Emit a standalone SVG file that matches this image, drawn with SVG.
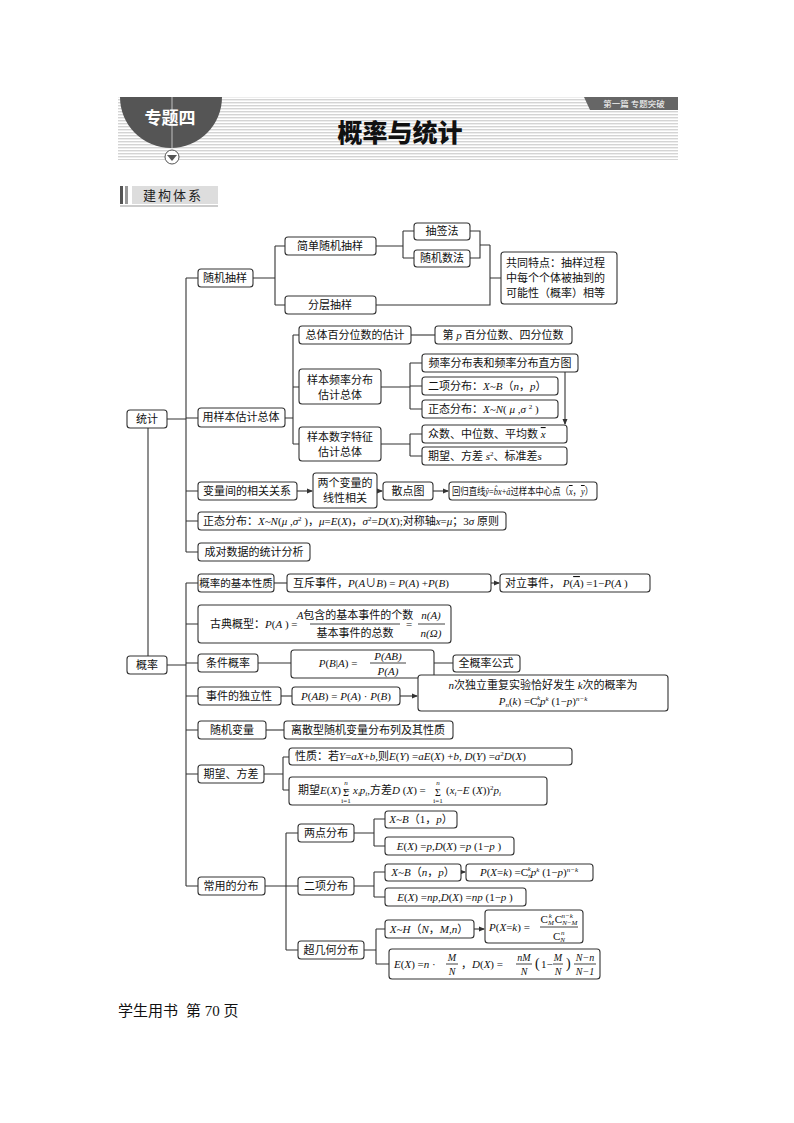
<svg xmlns="http://www.w3.org/2000/svg" width="794" height="1123" viewBox="0 0 794 1123">
<defs>
<pattern id="st" width="4" height="3" patternUnits="userSpaceOnUse"><rect width="4" height="3" fill="#fff"/><rect width="4" height="1.4" fill="#d4d4d4"/></pattern>
<marker id="ar" markerWidth="6" markerHeight="6" refX="5" refY="3" orient="auto" markerUnits="userSpaceOnUse"><path d="M0,0.5 L6,3 L0,5.5z" fill="#333"/></marker>
<style>
.b{fill:#fff;stroke:#333;stroke-width:1.1}
.t{font-family:"Liberation Serif","Noto Sans CJK SC",serif;font-size:11px;fill:#111;text-anchor:middle}
.l{text-anchor:start}
.s{font-size:7px}
.i{font-style:italic}
.c path,.c line{fill:none;stroke:#333;stroke-width:1.1}
</style>
</defs>
<g id="header">
<rect x="118" y="97" width="560" height="63" fill="url(#st)"/>
<path d="M120,97 H222 A51,51 0 0 1 120,97z" fill="#555"/>
<line x1="172" y1="97" x2="172" y2="150" stroke="#ddd" stroke-width="0.8"/>
<text x="170" y="124" style="font-family:'Noto Sans CJK SC',sans-serif;font-size:17px;font-weight:bold;fill:#fff;text-anchor:middle">专题四</text>
<circle cx="172" cy="157" r="7" fill="#fff" stroke="#555"/>
<path d="M167,155 H177 L172,161z" fill="#555"/>
<text x="400" y="142" style="font-family:'Noto Sans CJK SC',sans-serif;font-size:25px;font-weight:900;fill:#111;text-anchor:middle">概率与统计</text>
<path d="M584,97 H678 V110 H590z" fill="#666"/>
<text x="634" y="107" style="font-family:'Noto Sans CJK SC',sans-serif;font-size:8.5px;fill:#fff;text-anchor:middle">第一篇  专题突破</text>
<rect x="120" y="186" width="3" height="18" fill="#555"/>
<rect x="125" y="186" width="3" height="18" fill="#999"/>
<rect x="132" y="186" width="86" height="18" fill="#ddd"/>
<line x1="120" y1="206" x2="218" y2="206" stroke="#999"/>
<text x="173" y="200" style="font-family:'Noto Sans CJK SC',sans-serif;font-size:13px;fill:#222;text-anchor:middle;letter-spacing:2px">建构体系</text>
</g>
<g id="connectors" class="c">
<path d="M148,428 V656"/>
<path d="M167,419 H186 M186,278 V552 M186,278 H198 M186,418 H198 M186,491 H198 M186,521 H198 M186,552 H198"/>
<path d="M253,278 H275 M275,246 V305 M275,246 H285 M275,305 H285"/>
<path d="M376,246 H403 M403,231 V258 M403,231 H414 M403,258 H414"/>
<path d="M470,231 H480 V258 H470 M480,245 H490 M376,305 H490 V245 M490,278 H501"/>
<path d="M285,418 H293 M293,335 V444 M293,335 H299 M293,387 H299 M293,444 H299"/>
<path d="M411,335 H435"/>
<path d="M381,387 H410 M410,363 V409 M410,363 H422 M410,386 H422 M410,409 H422"/>
<path d="M565,372 V424" marker-end="url(#ar)"/>
<path d="M381,444 H410 M410,434 V456 M410,434 H422 M410,456 H422"/>
<path d="M297,491 H312" marker-end="url(#ar)"/>
<path d="M377,491 H382" marker-end="url(#ar)"/>
<path d="M433,491 H448" marker-end="url(#ar)"/>
<path d="M167,665 H186 M186,583 V886 M186,583 H198 M186,624 H198 M186,663 H198 M186,696 H198 M186,730 H198 M186,774 H198 M186,886 H198"/>
<path d="M274,583 H287"/>
<path d="M491,583 H499" marker-end="url(#ar)"/>
<path d="M258,663 H291 M434,663 H453"/>
<path d="M281,696 H292"/>
<path d="M400,696 H417" marker-end="url(#ar)"/>
<path d="M266,730 H284"/>
<path d="M264,774 H283 M283,757 V790 M283,757 H289 M283,790 H289"/>
<path d="M265,886 H286 M286,833 V950 M286,833 H298 M286,886 H298 M286,950 H298"/>
<path d="M354,833 H374 M374,819 V846 M374,819 H385 M374,846 H385"/>
<path d="M354,886 H374 M374,872 V897 M374,872 H385 M374,897 H385"/>
<path d="M461,872 H465" marker-end="url(#ar)"/>
<path d="M364,950 H376 M376,929 V964 M376,929 H385 M376,964 H389"/>
<path d="M474,929 H484" marker-end="url(#ar)"/>
</g>
<g id="n-tongji"><rect class="b" x="127" y="410" width="40" height="18" rx="3"/><text class="t" x="147" y="423">统计</text></g>
<g id="n-gailv"><rect class="b" x="127" y="656" width="40" height="18" rx="3"/><text class="t" x="147" y="669">概率</text></g>
<g id="n-sjcy"><rect class="b" x="198" y="269" width="55" height="18" rx="3"/><text class="t" x="225" y="282">随机抽样</text></g>
<g id="n-jdsj"><rect class="b" x="285" y="237" width="91" height="18" rx="3"/><text class="t" x="330" y="250">简单随机抽样</text></g>
<g id="n-fccy"><rect class="b" x="285" y="296" width="91" height="18" rx="3"/><text class="t" x="330" y="309">分层抽样</text></g>
<g id="n-cqf"><rect class="b" x="414" y="223" width="56" height="17" rx="3"/><text class="t" x="442" y="235">抽签法</text></g>
<g id="n-sjsf"><rect class="b" x="414" y="250" width="56" height="17" rx="3"/><text class="t" x="442" y="262">随机数法</text></g>
<g id="n-gttd"><rect class="b" x="501" y="252" width="116" height="52" rx="3"/><text class="t l" x="506" y="267">共同特点：抽样过程</text><text class="t l" x="506" y="282">中每个个体被抽到的</text><text class="t l" x="506" y="297">可能性（概率）相等</text></g>
<g id="n-yyb"><rect class="b" x="198" y="408" width="87" height="19" rx="3"/><text class="t" x="241" y="421">用样本估计总体</text></g>
<g id="n-ztbf"><rect class="b" x="299" y="326" width="112" height="18" rx="3"/><text class="t" x="355" y="339">总体百分位数的估计</text></g>
<g id="n-dpbf"><rect class="b" x="435" y="326" width="137" height="18" rx="3"/><text class="t" x="503" y="339">第 <tspan class="i">p</tspan> 百分位数、四分位数</text></g>
<g id="n-ybpl"><rect class="b" x="299" y="369" width="82" height="35" rx="3"/><text class="t" x="340" y="384">样本频率分布</text><text class="t" x="340" y="399">估计总体</text></g>
<g id="n-plfb"><rect class="b" x="422" y="354" width="156" height="18" rx="3"/><text class="t" x="500" y="367">频率分布表和频率分布直方图</text></g>
<g id="n-exfb"><rect class="b" x="422" y="377" width="136" height="18" rx="3"/><text class="t l" x="428" y="390">二项分布：<tspan class="i">X~B</tspan>（<tspan class="i">n</tspan>，<tspan class="i">p</tspan>）</text></g>
<g id="n-ztfb"><rect class="b" x="422" y="400" width="136" height="18" rx="3"/><text class="t l" x="428" y="413">正态分布：<tspan class="i">X~N</tspan>( <tspan class="i">μ</tspan> ,<tspan class="i">σ</tspan> <tspan class="s" dy="-4">2</tspan><tspan dy="4"> )</tspan></text></g>
<g id="n-ybsz"><rect class="b" x="299" y="427" width="82" height="34" rx="3"/><text class="t" x="340" y="441">样本数字特征</text><text class="t" x="340" y="456">估计总体</text></g>
<g id="n-zs"><rect class="b" x="422" y="425" width="145" height="18" rx="3"/><text class="t l" x="428" y="438">众数、中位数、平均数 <tspan class="i" text-decoration="overline">x</tspan></text></g>
<g id="n-qw"><rect class="b" x="422" y="447" width="145" height="18" rx="3"/><text class="t l" x="428" y="460">期望、方差 <tspan class="i">s</tspan><tspan class="s" dy="-4">2</tspan><tspan dy="4">、标准差</tspan><tspan class="i">s</tspan></text></g>
<g id="n-blj"><rect class="b" x="198" y="482" width="99" height="18" rx="3"/><text class="t" x="247" y="495">变量间的相关关系</text></g>
<g id="n-lgbl"><rect class="b" x="313" y="473" width="64" height="35" rx="3"/><text class="t" x="345" y="487">两个变量的</text><text class="t" x="345" y="502">线性相关</text></g>
<g id="n-sdt"><rect class="b" x="383" y="482" width="50" height="18" rx="3"/><text class="t" x="408" y="495">散点图</text></g>
<g id="n-hgzx"><rect class="b" x="449" y="482" width="148" height="18" rx="3"/><text class="t l" x="452" y="495" style="font-size:10px" textLength="141" lengthAdjust="spacingAndGlyphs">回归直线<tspan class="i">ŷ</tspan>=<tspan class="i">b̂x</tspan>+<tspan class="i">â</tspan>过样本中心点（<tspan class="i" text-decoration="overline">x</tspan>，<tspan class="i" text-decoration="overline">y</tspan>）</text></g>
<g id="n-ztfb2"><rect class="b" x="198" y="512" width="308" height="18" rx="3"/><text class="t l" x="203" y="525" textLength="296" lengthAdjust="spacingAndGlyphs">正态分布：<tspan class="i">X~N</tspan>(<tspan class="i">μ</tspan> ,<tspan class="i">σ</tspan><tspan class="s" dy="-4">2</tspan><tspan dy="4"> )，</tspan><tspan class="i">μ</tspan>=<tspan class="i">E</tspan>(<tspan class="i">X</tspan>)，<tspan class="i">σ</tspan><tspan class="s" dy="-4">2</tspan><tspan dy="4">=</tspan><tspan class="i">D</tspan>(<tspan class="i">X</tspan>);对称轴<tspan class="i">x</tspan>=<tspan class="i">μ</tspan>；3<tspan class="i">σ</tspan> 原则</text></g>
<g id="n-cdsj"><rect class="b" x="198" y="543" width="112" height="18" rx="3"/><text class="t" x="254" y="556">成对数据的统计分析</text></g>
<g id="n-gljb"><rect class="b" x="198" y="574" width="76" height="18" rx="3"/><text class="t" x="236" y="587" style="font-size:10.5px">概率的基本性质</text></g>
<g id="n-hc"><rect class="b" x="287" y="574" width="204" height="18" rx="3"/><text class="t l" x="293" y="587">互斥事件，<tspan class="i">P</tspan>(<tspan class="i">A</tspan>∪<tspan class="i">B</tspan>) = <tspan class="i">P</tspan>(<tspan class="i">A</tspan>) +<tspan class="i">P</tspan>(<tspan class="i">B</tspan>)</text></g>
<g id="n-dl"><rect class="b" x="500" y="574" width="150" height="18" rx="3"/><text class="t l" x="505" y="587">对立事件，  <tspan class="i">P</tspan>(<tspan class="i" text-decoration="overline">A</tspan>) =1−<tspan class="i">P</tspan>(<tspan class="i">A</tspan> )</text></g>
<g id="n-gd"><rect class="b" x="198" y="605" width="253" height="38" rx="3"/><text class="t l" x="210" y="628">古典概型：<tspan class="i">P</tspan>(<tspan class="i">A</tspan> ) =</text><line x1="310" y1="624" x2="400" y2="624" stroke="#111" stroke-width="0.8"/><text class="t" x="355" y="619"><tspan class="i">A</tspan>包含的基本事件的个数</text><text class="t" x="355" y="637">基本事件的总数</text><text class="t" x="409" y="628">=</text><line x1="418" y1="624" x2="445" y2="624" stroke="#111" stroke-width="0.8"/><text class="t i" x="431" y="619">n(A)</text><text class="t i" x="431" y="637">n(Ω)</text></g>
<g id="n-tjgl"><rect class="b" x="198" y="654" width="60" height="18" rx="3"/><text class="t" x="228" y="667">条件概率</text></g>
<g id="n-pba"><rect class="b" x="291" y="650" width="143" height="28" rx="3"/><text class="t" x="338" y="667"><tspan class="i">P</tspan>(<tspan class="i">B</tspan>|<tspan class="i">A</tspan>) =</text><line x1="370" y1="663" x2="406" y2="663" stroke="#111" stroke-width="0.8"/><text class="t i" x="388" y="660">P(AB)</text><text class="t i" x="388" y="675">P(A)</text></g>
<g id="n-qgl"><rect class="b" x="453" y="655" width="67" height="17" rx="3"/><text class="t" x="486" y="667">全概率公式</text></g>
<g id="n-dlx"><rect class="b" x="198" y="687" width="83" height="18" rx="3"/><text class="t" x="239" y="700">事件的独立性</text></g>
<g id="n-pab"><rect class="b" x="292" y="687" width="108" height="18" rx="3"/><text class="t" x="346" y="700"><tspan class="i">P</tspan>(<tspan class="i">AB</tspan>) = <tspan class="i">P</tspan>(<tspan class="i">A</tspan>) · <tspan class="i">P</tspan>(<tspan class="i">B</tspan>)</text></g>
<g id="n-ncdl"><rect class="b" x="418" y="675" width="250" height="36" rx="3"/><text class="t" x="543" y="689"><tspan class="i">n</tspan>次独立重复实验恰好发生 <tspan class="i">k</tspan>次的概率为</text><text class="t" x="543" y="705"><tspan class="i">P</tspan><tspan class="s i" dy="2">n</tspan><tspan dy="-2">(</tspan><tspan class="i">k</tspan>) =C<tspan class="s i" dy="2">n</tspan><tspan class="s i" dx="-4" dy="-7">k</tspan><tspan class="i" dy="5">p</tspan><tspan class="s i" dy="-4">k</tspan><tspan dy="4"> (1−</tspan><tspan class="i">p</tspan>)<tspan class="s i" dy="-4">n−k</tspan></text></g>
<g id="n-sjbl"><rect class="b" x="198" y="721" width="68" height="18" rx="3"/><text class="t" x="232" y="734">随机变量</text></g>
<g id="n-lsx"><rect class="b" x="284" y="721" width="169" height="18" rx="3"/><text class="t" x="368" y="734">离散型随机变量分布列及其性质</text></g>
<g id="n-qwfc"><rect class="b" x="198" y="765" width="66" height="18" rx="3"/><text class="t" x="231" y="778">期望、方差</text></g>
<g id="n-xz"><rect class="b" x="289" y="748" width="283" height="17" rx="3"/><text class="t l" x="295" y="760">性质：若<tspan class="i">Y</tspan>=<tspan class="i">aX</tspan>+<tspan class="i">b</tspan>,则<tspan class="i">E</tspan>(<tspan class="i">Y</tspan>) =<tspan class="i">aE</tspan>(<tspan class="i">X</tspan>) +<tspan class="i">b</tspan>, <tspan class="i">D</tspan>(<tspan class="i">Y</tspan>) =<tspan class="i">a</tspan><tspan class="s" dy="-4">2</tspan><tspan class="i" dy="4">D</tspan>(<tspan class="i">X</tspan>)</text></g>
<g id="n-qwe"><rect class="b" x="289" y="777" width="258" height="28" rx="3"/><text class="t l" x="298" y="794">期望<tspan class="i">E</tspan>(<tspan class="i">X</tspan>) =</text><text class="t" x="346" y="796" style="font-size:10px">Σ</text><text class="t s i" x="346" y="785">n</text><text class="t s" x="346" y="803">i=1</text><text class="t l" x="353" y="794"><tspan class="i">x</tspan><tspan class="s i" dy="2">i</tspan><tspan class="i" dy="-2">p</tspan><tspan class="s i" dy="2">i</tspan><tspan dy="-2">,方差</tspan><tspan class="i">D</tspan> (<tspan class="i">X</tspan>) =</text><text class="t" x="438" y="796" style="font-size:10px">Σ</text><text class="t s i" x="438" y="785">n</text><text class="t s" x="438" y="803">i=1</text><text class="t l" x="446" y="794">(<tspan class="i">x</tspan><tspan class="s i" dy="2">i</tspan><tspan dy="-2">−</tspan><tspan class="i">E</tspan> (<tspan class="i">X</tspan>))<tspan class="s" dy="-4">2</tspan><tspan class="i" dy="4">p</tspan><tspan class="s i" dy="2">i</tspan></text></g>
<g id="n-cyfb"><rect class="b" x="198" y="877" width="67" height="18" rx="3"/><text class="t" x="231" y="890">常用的分布</text></g>
<g id="n-ldfb"><rect class="b" x="298" y="824" width="56" height="18" rx="3"/><text class="t" x="326" y="837">两点分布</text></g>
<g id="n-xb1"><rect class="b" x="385" y="811" width="72" height="17" rx="3"/><text class="t" x="421" y="823"><tspan class="i">X~B</tspan>（1，<tspan class="i">p</tspan>）</text></g>
<g id="n-ex1"><rect class="b" x="385" y="837" width="129" height="18" rx="3"/><text class="t" x="449" y="850"><tspan class="i">E</tspan>(<tspan class="i">X</tspan>) =<tspan class="i">p</tspan>,<tspan class="i">D</tspan>(<tspan class="i">X</tspan>) =<tspan class="i">p</tspan> (1−<tspan class="i">p</tspan> )</text></g>
<g id="n-exfb2"><rect class="b" x="298" y="877" width="56" height="18" rx="3"/><text class="t" x="326" y="890">二项分布</text></g>
<g id="n-xbn"><rect class="b" x="385" y="864" width="76" height="17" rx="3"/><text class="t" x="423" y="876"><tspan class="i">X~B</tspan>（<tspan class="i">n</tspan>，<tspan class="i">p</tspan>）</text></g>
<g id="n-pxk"><rect class="b" x="466" y="864" width="127" height="17" rx="3"/><text class="t" x="529" y="876"><tspan class="i">P</tspan>(<tspan class="i">X</tspan>=<tspan class="i">k</tspan>) =C<tspan class="s i" dy="2">n</tspan><tspan class="s i" dx="-4" dy="-7">k</tspan><tspan class="i" dy="5">p</tspan><tspan class="s i" dy="-4">k</tspan><tspan dy="4"> (1−</tspan><tspan class="i">p</tspan>)<tspan class="s i" dy="-4">n−k</tspan></text></g>
<g id="n-exn"><rect class="b" x="385" y="888" width="141" height="18" rx="3"/><text class="t" x="455" y="901"><tspan class="i">E</tspan>(<tspan class="i">X</tspan>) =<tspan class="i">np</tspan>,<tspan class="i">D</tspan>(<tspan class="i">X</tspan>) =<tspan class="i">np</tspan> (1−<tspan class="i">p</tspan> )</text></g>
<g id="n-cjh"><rect class="b" x="298" y="941" width="66" height="18" rx="3"/><text class="t" x="331" y="954">超几何分布</text></g>
<g id="n-xh"><rect class="b" x="385" y="920" width="89" height="18" rx="3"/><text class="t" x="429" y="933"><tspan class="i">X~H</tspan>（<tspan class="i">N</tspan>，<tspan class="i">M</tspan>,<tspan class="i">n</tspan>）</text></g>
<g id="n-pxh"><rect class="b" x="485" y="910" width="98" height="33" rx="3"/><text class="t l" x="489" y="931"><tspan class="i">P</tspan>(<tspan class="i">X</tspan>=<tspan class="i">k</tspan>) =</text><line x1="540" y1="927" x2="578" y2="927" stroke="#111" stroke-width="0.8"/><text class="t" x="559" y="923">C<tspan class="s i" dy="2">M</tspan><tspan class="s i" dx="-5" dy="-7">k</tspan><tspan dx="3" dy="5">C</tspan><tspan class="s i" dy="2">N−M</tspan><tspan class="s i" dx="-16" dy="-7">n−k</tspan></text><text class="t" x="559" y="940">C<tspan class="s i" dy="2">N</tspan><tspan class="s i" dx="-4" dy="-7">n</tspan></text></g>
<g id="n-exh"><rect class="b" x="389" y="949" width="211" height="30" rx="3"/><text class="t l" x="394" y="968"><tspan class="i">E</tspan>(<tspan class="i">X</tspan>) =<tspan class="i">n</tspan> ·</text><line x1="446" y1="964" x2="458" y2="964" stroke="#111" stroke-width="0.8"/><text class="t i" x="452" y="961" style="font-size:10px">M</text><text class="t i" x="452" y="975" style="font-size:10px">N</text><text class="t l" x="461" y="968">，<tspan class="i">D</tspan>(<tspan class="i">X</tspan>) =</text><line x1="516" y1="964" x2="532" y2="964" stroke="#111" stroke-width="0.8"/><text class="t i" x="524" y="961" style="font-size:10px">nM</text><text class="t i" x="524" y="975" style="font-size:10px">N</text><text class="t l" x="535" y="968" style="font-size:14px">(</text><text class="t l" x="541" y="968">1−</text><line x1="553" y1="964" x2="563" y2="964" stroke="#111" stroke-width="0.8"/><text class="t i" x="558" y="961" style="font-size:10px">M</text><text class="t i" x="558" y="975" style="font-size:10px">N</text><text class="t l" x="566" y="968" style="font-size:14px">)</text><line x1="574" y1="964" x2="596" y2="964" stroke="#111" stroke-width="0.8"/><text class="t i" x="585" y="961" style="font-size:10px">N−n</text><text class="t i" x="585" y="975" style="font-size:10px">N−1</text></g>
<g id="footer"><text x="118" y="1016" style="font-family:'Liberation Serif','Noto Sans CJK SC',serif;font-size:15px;fill:#111">学生用书<tspan dx="8">第 70 页</tspan></text></g>
</svg>
